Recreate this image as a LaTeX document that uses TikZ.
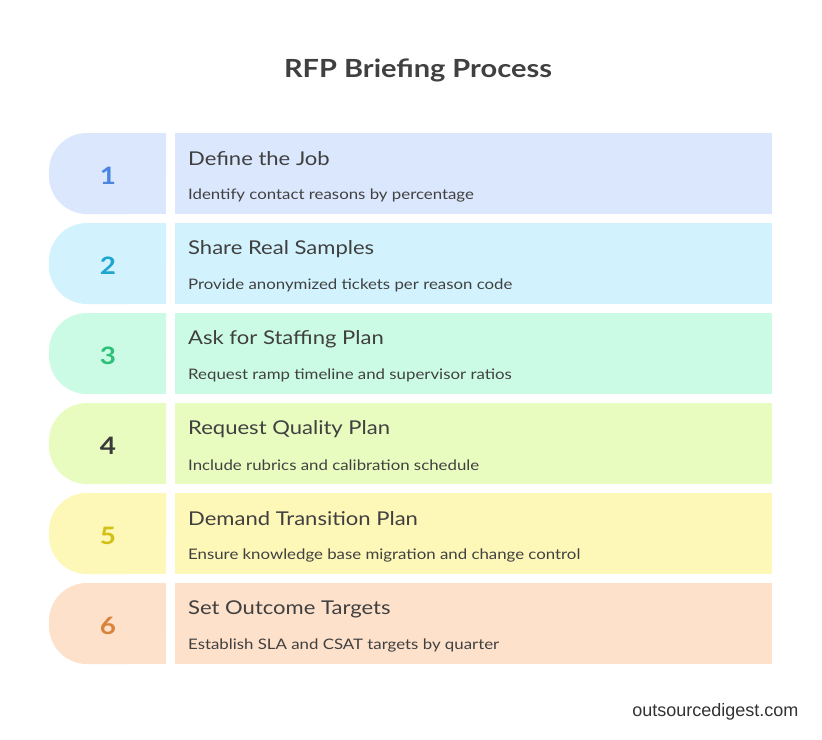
\documentclass[tikz,border=0pt]{standalone}
\usepackage{fontspec}
\setmainfont{Lato}[FakeStretch=1.16]
\newfontfamily\footfont{Liberation Sans}
\definecolor{bgA}{HTML}{DBE7FD}\definecolor{nA}{HTML}{4A86E0}
\definecolor{bgB}{HTML}{D2F3FE}\definecolor{nB}{HTML}{1EA5D0}
\definecolor{bgC}{HTML}{CCFBE5}\definecolor{nC}{HTML}{2EBF78}
\definecolor{bgD}{HTML}{E9FCC0}\definecolor{nD}{HTML}{3A3A3A}
\definecolor{bgE}{HTML}{FDF7B8}\definecolor{nE}{HTML}{D4C015}
\definecolor{bgF}{HTML}{FDE1CB}\definecolor{nF}{HTML}{D8823A}
\definecolor{txt}{HTML}{404040}
\tikzset{
  numtext/.style={font=\bfseries\fontsize{24}{28}\selectfont, anchor=center},
  headtext/.style={font=\fontsize{19}{22}\selectfont, text=txt, anchor=west, inner sep=0pt},
  subtext/.style={font=\fontsize{14.5}{17}\selectfont, text=txt, anchor=west, inner sep=0pt},
  card/.style={anchor=north west, minimum width=597pt, minimum height=81pt, inner sep=0pt, draw=none},
}
\begin{document}
\begin{tikzpicture}[x=1pt,y=-1pt]
\useasboundingbox[fill=white] (0,0) rectangle (822,739);
\node[font=\bfseries\fontsize{25}{29}\selectfont, text=txt] (title) at (418,70) {RFP Briefing Process};
\foreach \i/\y/\bg/\nc/\h/\s in {
 1/133/bgA/nA/Define the Job/Identify contact reasons by percentage,
 2/223/bgB/nB/Share Real Samples/Provide anonymized tickets per reason code,
 3/313/bgC/nC/Ask for Staffing Plan/Request ramp timeline and supervisor ratios,
 4/403/bgD/nD/Request Quality Plan/Include rubrics and calibration schedule,
 5/493/bgE/nE/Demand Transition Plan/Ensure knowledge base migration and change control,
 6/583/bgF/nF/Set Outcome Targets/Establish SLA and CSAT targets by quarter}{
  \fill[\bg, rounded corners=38pt] (166,\y) -- (49,\y) -- (49,\y+81) -- (166,\y+81) [sharp corners] -- cycle;
  \fill[\bg] (120,\y) rectangle (166,\y+81);
  \node[numtext, text=\nc] (num\i) at (108,\y+43) {\i};
  \node[card, fill=\bg] (card\i) at (175,\y) {};
  \node[headtext] (head\i) at (188,\y+26) {\h};
  \node[subtext] (sub\i) at (188,\y+62) {\s};
}
\node[font=\fontsize{18}{21}\selectfont\footfont, text=black!80, anchor=east] (foot) at (802,712) {outsourcedigest.com};
\end{tikzpicture}
\end{document}
